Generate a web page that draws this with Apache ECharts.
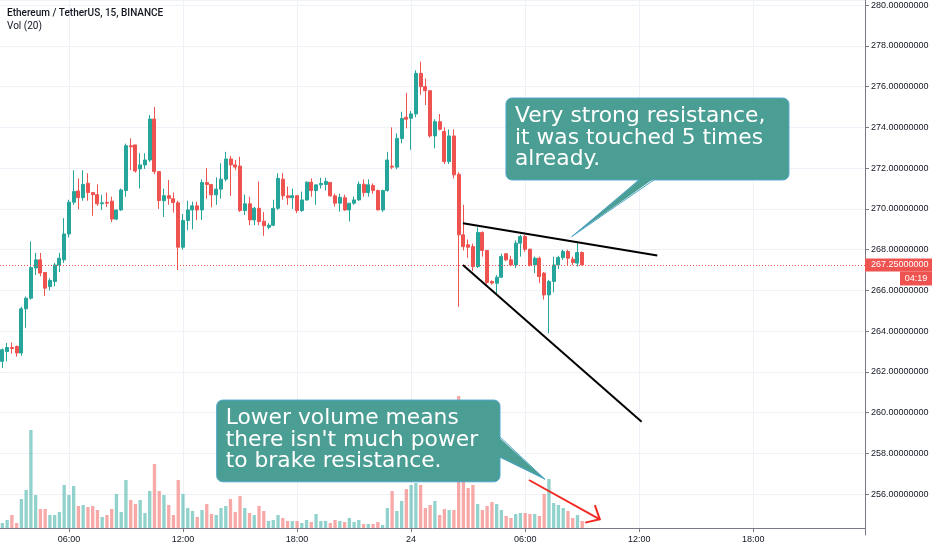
<!DOCTYPE html>
<html><head><meta charset="utf-8">
<script src="https://cdn.jsdelivr.net/npm/echarts@6/dist/echarts.min.js"></script>
<style>html,body{margin:0;padding:0;background:#fff}#c{width:932px;height:550px}</style>
</head><body><div id="c"></div>
<script>
// ---- data (15-minute candles, ETH/USDT, starting 23rd 02:30) ----
const startDay = 23, startMinute = 150, stepMinutes = 15, slotCount = 182;
const opens = [262.52,263.0,263.2,263.25,262.93,265.1,265.62,267.1,267.5,266.88,266.19,266.44,267.25,267.5,268.77,270.33,270.88,270.55,271.26,270.8,270.7,270.25,270.32,270.38,269.5,269.95,270.9,273.1,273.14,271.96,272.16,272.4,
274.41,271.83,270.4,270.65,270.5,270.3,268.12,269.43,269.95,270.15,269.95,271.29,271.2,270.69,270.97,271.46,272.45,272.16,272.1,269.92,270.25,269.46,270.03,269.4,269.1,269.2,270.03,271.46,270.64,
270.55,270.65,269.92,270.44,271.31,270.9,271.18,271.2,271.3,270.64,270.28,270.55,269.95,270.28,270.44,271.21,270.8,271.15,270.9,269.95,270.9,272.1,272.05,273.45,274.5,274.45,274.66,276.65,276.0,
275.8,273.58,274.28,273.8,272.32,273.58,271.7,268.73,268.24,268.15,267.17,268.84,267.96,266.44,266.35,266.65,267.8,267.5,267.25,268.32,268.64,268.02,267.25,267.58,266.85,265.78,266.44,267.25,267.61,267.91,267.53,267.34,267.86];
const closes = [263.09,263.2,263.15,262.93,265.1,265.62,267.12,267.5,266.85,266.11,266.49,267.25,267.58,268.77,270.33,270.85,270.55,271.2,270.8,270.7,270.25,270.3,270.28,269.5,269.95,270.93,273.1,273.05,271.86,272.16,272.4,274.41,
271.83,270.41,270.65,270.52,270.31,268.12,269.43,269.95,270.15,269.95,271.29,271.2,270.69,270.97,271.46,272.45,272.16,272.05,269.92,270.25,269.46,270.03,269.38,269.17,269.2,270.03,271.5,270.64,270.55,
270.65,269.92,270.44,271.31,270.9,271.18,271.25,271.35,270.64,270.28,270.57,269.95,270.28,270.44,271.21,270.8,271.18,270.9,269.95,270.9,272.4,272.05,273.46,274.44,274.4,274.66,276.65,276.0,275.8,
273.58,274.28,273.91,272.32,273.58,271.67,268.73,268.15,268.12,267.17,268.84,267.96,266.39,266.36,266.65,267.66,267.5,267.25,268.32,268.64,268.02,267.25,267.58,266.68,265.78,266.44,267.25,267.61,267.91,267.58,267.37,267.86,267.25];
const lows = [262.19,262.52,262.9,262.75,262.8,264.17,265.55,266.76,266.7,265.73,266.0,266.2,266.9,267.35,268.6,270.2,269.98,270.4,270.4,269.66,270.15,269.95,270.1,269.35,269.45,269.9,270.6,271.9,271.78,271.0,271.96,272.3,
271.7,270.0,269.6,270.2,269.82,267.0,268.0,268.95,269.0,269.45,269.46,270.5,270.08,270.2,270.5,271.35,270.64,271.9,269.85,269.7,269.2,269.2,269.2,268.68,269.0,269.15,269.95,270.45,270.2,
270.0,269.79,269.85,270.4,270.6,270.2,271.0,270.9,270.6,270.11,269.87,269.9,269.38,270.2,270.4,270.6,270.6,270.75,269.95,269.85,270.85,271.95,271.95,273.22,273.95,272.9,274.5,275.6,275.1,
273.5,272.97,273.85,272.2,272.2,271.5,265.2,267.96,267.6,266.95,267.1,267.66,266.28,266.28,265.85,266.6,267.45,267.18,267.1,267.66,267.9,267.17,266.85,266.36,265.55,263.9,265.9,267.05,267.5,267.2,267.25,267.17,267.25];
const highs = [263.15,263.42,263.45,263.3,265.2,265.7,268.4,267.84,267.84,266.9,266.6,267.35,267.85,269.55,270.45,271.9,271.5,271.9,271.75,270.8,271.2,270.7,270.8,270.6,269.95,271.0,273.2,273.46,273.14,272.73,272.73,274.6,
275.0,271.83,271.0,271.42,270.8,270.4,269.75,270.4,270.35,270.35,271.45,272.0,271.2,271.55,272.24,272.8,272.6,272.4,272.56,270.7,270.6,270.1,271.34,269.85,269.3,270.45,271.75,271.75,271.1,
271.0,270.65,270.85,271.35,271.5,271.18,271.53,271.53,271.3,270.75,270.75,270.7,270.28,270.6,271.35,271.45,271.45,271.25,270.95,270.95,272.8,274.0,273.7,274.77,275.7,274.8,276.8,277.22,276.4,
275.8,274.4,274.66,274.0,273.9,273.9,271.8,270.2,268.5,268.3,269.1,268.9,267.96,266.5,266.75,267.8,267.83,267.7,268.45,268.73,268.73,268.05,267.66,267.66,266.9,266.52,267.66,267.7,268.0,268.0,267.66,268.32,267.91];
const volumes = [5,8,13,5,29,38,98,33,19,19,13,13,16,43,33,42,22,23,21,22,18,11,13,19,34,16,48,28,24,28,15,37,
64,37,33,23,13,48,34,20,17,11,18,24,14,13,20,22,29,16,32,20,15,13,22,17,7,8,13,10,7,
7,7,5,8,6,14,7,7,5,8,7,6,10,6,8,4,4,4,6,3,20,37,17,27,39,43,45,43,20,
23,27,13,19,18,18,132,48,40,43,24,18,22,26,24,18,12,10,14,15,15,14,14,12,34,49,25,23,20,17,10,13,7];
const tickTimes  = ['23 06:00','23 12:00','23 18:00','24 00:00','24 06:00','24 12:00','24 18:00'];
const tickLabels = ['06:00','12:00','18:00','24','06:00','12:00','18:00'];
const priceMin = 254, priceMax = 280.25, priceStep = 2;
const lastPrice = 267.25, countdown = '04:19';
const titleText = 'Ethereum / TetherUS, 15, BINANCE', volText = 'Vol (20)';
// drawings, in data coordinates [candle index, price]
const resistanceLine = [[96.9, 269.3], [137.8, 267.71]];
const supportLine = [[96.9, 267.25], [134.5, 259.56]];
const calloutTop = { box:[105.96, 275.44, 165.5, 271.42], tip:[119.8, 268.64], base:[[134.15, 271.42],[137.1, 271.42]],
  lines:['Very strong resistance,','it was touched 5 times','already.'] };
const calloutLow = { box:[45.09, 260.62, 104.7, 256.61], tip:[114.2, 256.73], base:[[104.7, 258.81],[104.7, 257.83]],
  lines:['Lower volume means',"there isn't much power",'to brake resistance.'] };
const volumeArrow = [[110.8, 48], [125.7, 8.7]]; // [candle index, volume]

// ---- derived ----
function pad(n){ return (n<10?'0':'')+n; }
const categories = [];
for (let k = 0; k < slotCount; k++) {
  const m = startMinute + stepMinutes*k;
  const d = startDay + Math.floor(m/1440), mm = m % 1440;
  categories.push(d + ' ' + pad(Math.floor(mm/60)) + ':' + pad(mm%60));
}
const candleData = opens.map((o,i)=>[o, closes[i], lows[i], highs[i]]);
const UP='#26a69a', DOWN='#ef5350';
const volData = volumes.map((v,i)=>({value:v, itemStyle:{color: closes[i]>=opens[i] ? 'rgba(38,166,154,0.5)' : 'rgba(239,83,80,0.5)'}}));
const isTick = (idx, val) => tickTimes.indexOf(val) >= 0;
const AX = '#787b86', GRID = '#eef1f7', TXT = '#131722';
const axisFont = '"Liberation Sans", Arial, sans-serif';

const chart = echarts.init(document.getElementById('c'));
chart.setOption({
  animation:false,
  backgroundColor:'#fff',
  grid:[
    {left:0, right:67, top:0, bottom:15},
    {left:0, right:67, top:380, bottom:22},
    {left:0, right:67, top:0, bottom:22}
  ],
  xAxis:[
    {type:'category', gridIndex:0, data:categories, boundaryGap:true, show:false},
    {type:'category', gridIndex:1, data:categories, boundaryGap:true, show:false},
    {type:'category', gridIndex:2, data:categories, boundaryGap:true,
      axisLine:{show:true, onZero:false, lineStyle:{color:AX, width:1}},
      axisTick:{show:true, alignWithLabel:true, interval:isTick, length:4, lineStyle:{color:AX}},
      axisLabel:{interval:isTick, formatter:v=>tickLabels[tickTimes.indexOf(v)], color:TXT, fontSize:9, fontFamily:axisFont, margin:7},
      splitLine:{show:false}},
    {type:'value', gridIndex:0, min:-0.5, max:slotCount-0.5, show:false, axisLine:{show:false, onZero:false}, splitLine:{show:false}},
    {type:'value', gridIndex:1, min:-0.5, max:slotCount-0.5, show:false, axisLine:{show:false, onZero:false}, splitLine:{show:false}}
  ],
  yAxis:[
    {type:'value', gridIndex:0, position:'right', min:priceMin, max:priceMax, interval:priceStep,
      axisLine:{show:true, onZero:false, lineStyle:{color:AX}},
      axisTick:{show:true, length:4, lineStyle:{color:AX}},
      axisLabel:{formatter:v=>v.toFixed(8), color:TXT, fontSize:9, fontFamily:axisFont, margin:6, showMinLabel:false, showMaxLabel:false},
      splitLine:{show:true, showMinLine:false, lineStyle:{color:GRID}}},
    {type:'value', gridIndex:1, min:0, max:148, show:false, axisLine:{show:false, onZero:false}, splitLine:{show:false}},
    {type:'value', gridIndex:2, min:0, max:1, show:false, axisLine:{show:false, onZero:false}, splitLine:{show:false}}
  ],
  series:[
    {type:'line', xAxisIndex:2, yAxisIndex:2, data:[], z:0, silent:true,
      markLine:{silent:true, symbol:['none','none'], label:{show:false}, z:0,
        lineStyle:{type:'solid', color:GRID, width:1}, data:tickTimes.map(t=>({xAxis:t}))}},
    {type:'bar', xAxisIndex:1, yAxisIndex:1, data:volData, barWidth:3.3, silent:true},
    {type:'candlestick', xAxisIndex:0, yAxisIndex:0, data:candleData, barWidth:3.5,
      itemStyle:{color:UP, color0:DOWN, borderColor:UP, borderColor0:DOWN, borderWidth:1},
      markLine:{silent:true, symbol:['none','none'], label:{show:false},
        lineStyle:{type:[1,2], color:DOWN, width:1}, data:[{yAxis:lastPrice}]}},
    {type:'line', xAxisIndex:3, yAxisIndex:0, data:resistanceLine, symbol:'none', lineStyle:{color:'#000', width:2}, silent:true, z:5},
    {type:'line', xAxisIndex:3, yAxisIndex:0, data:supportLine, symbol:'none', lineStyle:{color:'#000', width:2}, silent:true, z:5},
    {type:'line', xAxisIndex:4, yAxisIndex:1, data:volumeArrow, symbol:'none', lineStyle:{color:'#f22a22', width:2}, silent:true, z:5}
  ]
});

const px = (i,p) => chart.convertToPixel({xAxisIndex:3, yAxisIndex:0}, [i,p]);
const pxv = (i,v) => chart.convertToPixel({xAxisIndex:4, yAxisIndex:1}, [i,v]);
const FILL = '#4b9e93', EDGE = '#4fa6cc';
function callout(c, inset) {
  const tl = px(c.box[0], c.box[1]), br = px(c.box[2], c.box[3]);
  const t = px(c.tip[0], c.tip[1]);
  const a = px(c.base[0][0], c.base[0][1]), b = px(c.base[1][0], c.base[1][1]);
  const ai = [a[0]+inset[0], a[1]+inset[1]], bi = [b[0]+inset[0], b[1]+inset[1]];
  return [
    {type:'rect', z:100, shape:{x:tl[0], y:tl[1], width:br[0]-tl[0], height:br[1]-tl[1], r:6}, style:{fill:FILL, stroke:EDGE, lineWidth:1}},
    {type:'polygon', z:101, shape:{points:[ai, t, bi]}, style:{fill:FILL}},
    {type:'polyline', z:102, shape:{points:[a, t, b]}, style:{stroke:EDGE, lineWidth:1, fill:null}},
    {type:'text', z:103, x:tl[0]+9, y:tl[1]+7.5, style:{text:c.lines.join('\n'), fill:'#fff', font:'21.8px "DejaVu Sans", sans-serif', lineHeight:21.6}}
  ];
}
const s = pxv(volumeArrow[0][0], volumeArrow[0][1]), e = pxv(volumeArrow[1][0], volumeArrow[1][1]);
const ang = Math.atan2(s[1]-e[1], s[0]-e[0]), hl = 15, ha = 0.73;
const head = [[e[0]+hl*Math.cos(ang+ha), e[1]+hl*Math.sin(ang+ha)], e, [e[0]+hl*Math.cos(ang-ha), e[1]+hl*Math.sin(ang-ha)]];
const ly = chart.convertToPixel({yAxisIndex:0}, lastPrice);
const gridRight = chart.getWidth() - 67;
chart.setOption({graphic:[
  {type:'text', left:7, top:8, z:50, style:{text:titleText, fill:TXT, font:'500 10px Roboto, sans-serif'}},
  {type:'text', left:7, top:21, z:50, style:{text:volText, fill:TXT, font:'10px Roboto, sans-serif'}},
  ...callout(calloutTop, [0,-1.5]),
  ...callout(calloutLow, [-1.5,0]),
  {type:'polyline', z:60, shape:{points:head}, style:{stroke:'#f22a22', lineWidth:2, fill:null}},
  {type:'rect', z:60, shape:{x:gridRight, y:ly-6.5, width:chart.getWidth()-gridRight, height:13}, style:{fill:DOWN}},
  {type:'text', z:61, x:gridRight+6, y:ly, style:{text:lastPrice.toFixed(8), fill:'#fff', font:'9px '+axisFont, verticalAlign:'middle'}},
  {type:'rect', z:60, shape:{x:chart.getWidth()-32, y:ly+6.5, width:32, height:14}, style:{fill:DOWN}},
  {type:'text', z:61, x:chart.getWidth()-16, y:ly+13.5, style:{text:countdown, fill:'#fff', font:'9px '+axisFont, align:'center', verticalAlign:'middle'}}
]});
</script></body></html>
